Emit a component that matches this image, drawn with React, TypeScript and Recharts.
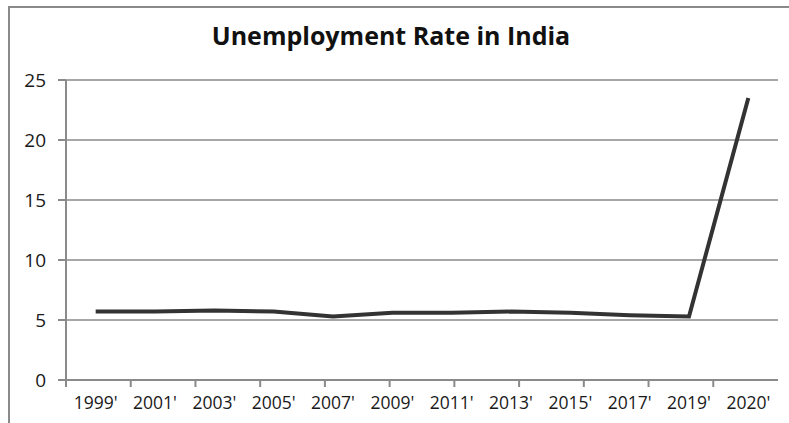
import React from 'react';
import { LineChart, Line, XAxis, YAxis, CartesianGrid } from 'recharts';

const YEARS = ["1999'", "2001'", "2003'", "2005'", "2007'", "2009'", "2011'", "2013'", "2015'", "2017'", "2019'", "2020'"];
const RATES = [5.7, 5.7, 5.8, 5.7, 5.3, 5.6, 5.6, 5.7, 5.6, 5.4, 5.3, 23.5];
const Y_TICKS = [0, 5, 10, 15, 20, 25];
const BOUNDARY_TICKS = [0, 1, 2, 3, 4, 5, 6, 7, 8, 9, 10, 11, 12];

const data = YEARS.map((year, i) => ({ year, rate: RATES[i] }));

const GRAY = '#8a8a8a';
const FONT = '"Open Sans", sans-serif';

const App: React.FC = () => {
  return (
    <div style={{ position: 'absolute', left: 0, top: 0, width: 789, height: 423, background: '#fff', overflow: 'hidden' }}>
      <div
        style={{
          position: 'absolute',
          left: 8,
          top: 6,
          width: 800,
          height: 430,
          borderLeft: `2px solid ${GRAY}`,
          borderTop: `2px solid ${GRAY}`,
        }}
      />
      <div
        style={{
          position: 'absolute',
          left: 0,
          top: 18,
          width: 782,
          textAlign: 'center',
          fontFamily: FONT,
          fontWeight: 700,
          fontSize: 25,
          color: '#111',
        }}
      >
        Unemployment Rate in India
      </div>
      <div style={{ position: 'absolute', left: 0, top: 0 }}>
        <LineChart width={789} height={423} data={data} margin={{ top: 80, right: 11, bottom: 0, left: 0 }}>
          <CartesianGrid vertical={false} stroke={GRAY} strokeWidth={1.5} />
          <XAxis
            xAxisId="bounds"
            type="number"
            domain={[0, 12]}
            ticks={BOUNDARY_TICKS}
            tick={() => <g />}
            height={1}
            tickSize={7}
            stroke={GRAY}
            strokeWidth={2}
            allowDataOverflow
          />
          <XAxis
            xAxisId="cat"
            dataKey="year"
            scale="band"
            height={42}
            axisLine={false}
            tickLine={false}
            tickMargin={10}
            tick={{ fill: '#1a1a1a', fontSize: 17.5, fontFamily: FONT }}
            interval={0}
          />
          <YAxis
            domain={[0, 25]}
            ticks={Y_TICKS}
            width={66}
            tickSize={8}
            stroke={GRAY}
            strokeWidth={2}
            tickMargin={12}
            tick={{ fill: '#1a1a1a', fontSize: 19, fontFamily: FONT }}
          />
          <Line
            xAxisId="cat"
            dataKey="rate"
            type="linear"
            stroke="#333"
            strokeWidth={4}
            dot={false}
            isAnimationActive={false}
          />
        </LineChart>
      </div>
    </div>
  );
};

export default App;
